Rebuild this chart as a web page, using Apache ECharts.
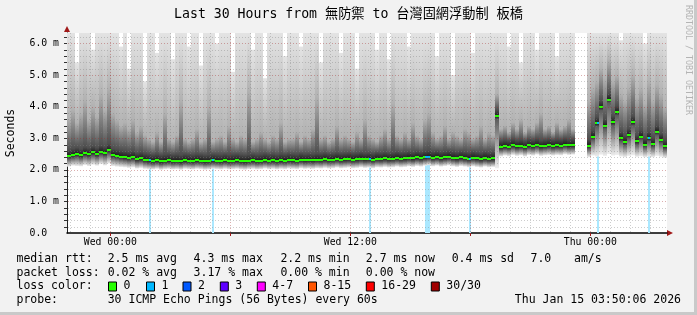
<!DOCTYPE html>
<html><head><meta charset="utf-8">
<script src="https://cdn.jsdelivr.net/npm/echarts@6/dist/echarts.min.js"></script>
<style>html,body{margin:0;padding:0;background:#f2f2f2}#c{width:697px;height:315px}</style>
</head><body><div id="c"></div><script>
// ---------- DATA ----------
const STEP = 12;            // minutes per bucket (x axis = minutes since Tue 21:50:06)
const X_MAX = 1800;         // 30 hours
const Y_MAX = 6.33;         // ms
const median = [
2.44,2.47,2.50,2.46,2.52,2.49,2.55,2.50,2.57,2.53,
2.62,2.47,2.45,2.42,2.40,2.38,2.40,2.34,2.36,2.32,
2.30,2.28,2.30,2.27,2.29,2.30,2.28,2.29,2.27,2.30,
2.29,2.28,2.30,2.29,2.27,2.28,2.30,2.29,2.28,2.30,
2.28,2.29,2.30,2.28,2.27,2.29,2.30,2.28,2.29,2.31,
2.29,2.30,2.28,2.30,2.29,2.31,2.30,2.29,2.32,2.30,
2.31,2.30,2.32,2.31,2.33,2.31,2.32,2.34,2.32,2.33,
2.34,2.32,2.33,2.35,2.33,2.34,2.32,2.35,2.34,2.36,
2.34,2.35,2.37,2.35,2.36,2.38,2.36,2.39,2.37,2.40,
2.42,2.38,2.40,2.37,2.39,2.41,2.38,2.36,2.39,2.37,
2.35,2.38,2.36,2.34,2.37,2.35,2.36,3.70,
2.72,2.75,2.73,2.78,2.74,2.76,2.72,2.77,2.75,2.79,
2.74,2.76,2.78,2.75,2.77,2.76,2.80,2.77,2.78,
null,null,null,
2.76,3.05,3.47,3.98,3.40,4.22,3.50,3.82,3.00,2.88,
3.10,3.50,2.90,3.05,2.80,3.00,2.82,3.20,2.95,2.75];
const smokeLo = [
2.10,2.13,2.12,2.11,2.15,2.12,2.16,2.13,2.18,2.14,
2.20,2.12,2.10,2.09,2.08,2.06,2.08,2.04,2.06,2.03,
2.02,2.01,2.03,2.00,2.02,2.03,2.01,2.02,2.00,2.03,
2.02,2.01,2.03,2.02,2.00,2.01,2.03,2.02,2.01,2.03,
2.01,2.02,2.03,2.01,2.00,2.02,2.03,2.01,2.02,2.04,
2.02,2.03,2.01,2.03,2.02,2.04,2.03,2.02,2.05,2.03,
2.04,2.03,2.05,2.04,2.06,2.04,2.05,2.07,2.05,2.06,
2.07,2.05,2.06,2.08,2.06,2.07,2.05,2.08,2.07,2.09,
2.07,2.08,2.10,2.08,2.09,2.11,2.09,2.12,2.10,2.13,
2.15,2.11,2.13,2.10,2.12,2.14,2.11,2.09,2.12,2.10,
2.08,2.11,2.09,2.07,2.10,2.08,2.09,2.05,
2.42,2.45,2.43,2.47,2.44,2.46,2.42,2.47,2.45,2.48,
2.44,2.46,2.47,2.45,2.47,2.46,2.49,2.47,2.48,
null,null,null,
2.40,2.45,2.42,2.48,2.44,2.50,2.45,2.47,2.42,2.40,
2.44,2.46,2.41,2.43,2.40,2.42,2.40,2.44,2.41,2.38];
const smokeQ3 = [
3.6,3.9,3.5,3.8,4.2,3.6,4.0,3.7,4.4,3.9,
4.6,3.8,3.6,3.4,3.5,3.3,3.6,3.2,3.4,3.1,
3.0,2.9,3.2,2.9,3.8,3.0,2.9,3.1,4.2,3.0,
2.9,3.0,3.3,2.9,3.0,4.0,2.9,3.0,3.1,2.9,
3.4,3.0,2.9,3.1,3.0,4.5,2.9,3.0,3.2,3.0,
2.9,3.1,3.0,3.5,2.9,3.0,3.0,3.2,2.9,3.1,
3.0,3.3,4.3,3.0,3.1,2.9,3.0,3.4,3.0,3.1,
3.0,2.9,3.2,3.0,3.6,3.1,3.0,2.9,3.1,3.3,
3.0,4.1,3.1,3.0,3.2,3.0,3.5,3.1,3.0,3.6,
3.8,3.2,3.0,3.1,3.4,3.0,3.2,3.1,3.0,3.3,
3.2,3.0,3.1,3.4,3.0,3.2,3.1,4.4,
3.3,3.4,3.2,3.5,3.3,3.6,3.2,3.4,3.3,3.5,
3.8,3.3,3.4,3.2,3.5,3.3,3.4,3.6,3.3,
null,null,null,
4.2,4.6,4.8,5.2,4.9,5.5,4.8,5.0,4.4,4.2,
4.6,5.0,4.3,4.6,4.1,4.8,4.2,4.7,4.4,4.0];
const smokeHi = [
6.33,6.33,5.4,6.33,6.33,6.33,5.8,6.33,6.33,6.33,
6.33,6.33,6.33,5.9,6.33,5.2,6.33,6.33,6.33,4.8,
6.33,6.33,5.7,6.33,6.33,6.33,5.5,6.33,6.33,6.33,
5.9,6.33,6.33,5.3,6.33,6.33,6.33,6.0,6.33,6.33,
6.33,5.1,6.33,6.33,6.33,6.33,5.8,6.33,6.33,4.9,
6.33,6.33,6.33,6.33,5.6,6.33,6.33,6.33,5.9,6.33,
6.33,6.33,6.33,5.4,6.33,6.33,6.33,6.33,5.7,6.33,
6.33,6.33,5.2,6.33,6.33,6.33,6.33,5.8,6.33,6.33,
5.5,6.33,6.33,6.33,6.33,5.9,6.33,6.33,6.33,6.33,
6.33,6.33,5.6,6.33,6.33,6.33,5.0,6.33,6.33,6.33,
6.33,5.7,6.33,6.33,6.33,6.33,6.33,6.33,
6.33,6.33,5.9,6.33,6.33,5.4,6.33,6.33,6.33,5.8,
6.33,6.33,6.33,6.33,5.6,6.33,6.33,6.33,6.33,
null,null,null,
6.33,6.33,6.33,6.33,6.33,6.33,6.33,6.33,6.1,6.33,
6.33,6.33,6.33,6.33,6.0,6.33,6.33,6.33,6.33,6.33];
// packet-loss events: start (minutes since start), duration (minutes), lost pings
const lossStart = [246, 435, 906, 1074, 1206, 1590, 1743];
const lossDur   = [6, 6, 6, 15, 6, 6, 6];
const lossCount = [1, 1, 1, 1, 1, 1, 1];
// axis ticks
const yMinorTicks = [0.2,0.4,0.6,0.8,1.2,1.4,1.6,1.8,2.2,2.4,2.6,2.8,3.2,3.4,3.6,3.8,4.2,4.4,4.6,4.8,5.2,5.4,5.6,5.8,6.2];
const yMajorTicks = [1,2,3,4,5,6];
const xMinorTicks = [9.9,69.9,189.9,249.9,309.9,369.9,429.9,549.9,609.9,669.9,729.9,789.9,909.9,969.9,1029.9,1089.9,1149.9,1269.9,1329.9,1389.9,1449.9,1509.9,1629.9,1689.9,1749.9];
const xMajorTicks = [129.9,489.9,849.9,1209.9,1569.9];
const xLabelTimes = [129.9, 849.9, 1569.9];
const xLabelTexts = ['Wed 00:00', 'Wed 12:00', 'Thu 00:00'];
// legend
const titleText = 'Last 30 Hours from 無防禦 to 台灣固網浮動制 板橋';
const rttLabels = ['2.5 ms avg', '4.3 ms max', '2.2 ms min', '2.7 ms now', '0.4 ms sd', '7.0', 'am/s'];
const lossLabels = ['0.02 % avg', '3.17 % max', '0.00 % min', '0.00 % now'];
const lossColorLabels = ['0', '1', '2', '3', '4-7', '8-15', '16-29', '30/30'];
const lossColors = ['#26ff00', '#00b8ff', '#0059ff', '#5e00ff', '#ff00ff', '#ff5500', '#ff0000', '#a10000'];
const probeText = '30 ICMP Echo Pings (56 Bytes) every 60s';
const dateText = 'Thu Jan 15 03:50:06 2026';

// ---------- LAYOUT / STYLE ----------
const FONT = "'DejaVu Sans Mono','Noto Sans CJK TC',monospace";
const GL = 67, GR = 30, GT = 33, GB = 82;
const GRID_C = 'rgba(130,130,130,0.40)';
const MGRID_C = 'rgba(160,40,40,0.38)';
const ARROW_C = '#a01818';

const smokeData = median.map((m, i) => [i * STEP, smokeLo[i], m, smokeQ3[i], smokeHi[i]]);
const medianData = median.map((m, i) => [i * STEP, m]);
const lossData = lossStart.map((t, i) => [t, lossDur[i], lossCount[i]]);

function colorForLoss(n) {
  if (n <= 0) return lossColors[0];
  if (n <= 3) return lossColors[n];
  if (n <= 7) return lossColors[4];
  if (n <= 15) return lossColors[5];
  if (n <= 29) return lossColors[6];
  return lossColors[7];
}
function lighten(hex, a) {
  const r = parseInt(hex.slice(1,3),16), g = parseInt(hex.slice(3,5),16), b = parseInt(hex.slice(5,7),16);
  const f = c => Math.round(255 - (255 - c) * a);
  return 'rgb(' + f(r) + ',' + f(g) + ',' + f(b) + ')';
}

function smokeItem(params, api) {
  const t = api.value(0), lo = api.value(1), md = api.value(2), q3 = api.value(3), hi = api.value(4);
  if (isNaN(md)) return null;
  const pHi = api.coord([t, hi]), pLo = api.coord([t, lo]), pEnd = api.coord([t + STEP, hi]);
  const H = pLo[1] - pHi[1];
  const off = v => Math.min(1, Math.max(0, (api.coord([t, v])[1] - pHi[1]) / H));
  return { type: 'rect', shape: { x: pHi[0], y: pHi[1], width: pEnd[0] - pHi[0], height: H },
    style: { fill: new echarts.graphic.LinearGradient(0, 0, 0, 1, [
      { offset: 0, color: '#e3e3e3' },
      { offset: off(q3), color: '#b2b2b2' },
      { offset: off(md + 0.2), color: '#4e4e4e' },
      { offset: off(md), color: '#1c1c1c' },
      { offset: off(md - 0.1), color: '#5c5c5c' },
      { offset: 1, color: '#eeeeee' }
    ]) } };
}
function medianItem(params, api) {
  const t = api.value(0), md = api.value(1);
  if (isNaN(md)) return null;
  const p0 = api.coord([t, md]), p1 = api.coord([t + STEP, md]);
  return { type: 'rect', shape: { x: p0[0], y: Math.round(p0[1]) - 1, width: p1[0] - p0[0], height: 2 },
    style: { fill: lossColors[0] } };
}
function lossBarItem(params, api) {
  const t = api.value(0), d = api.value(1), n = api.value(2);
  const p0 = api.coord([t, Y_MAX]), p1 = api.coord([t + d, 0]);
  return { type: 'rect', shape: { x: p0[0], y: p0[1], width: p1[0] - p0[0], height: p1[1] - p0[1] },
    style: { fill: lighten(colorForLoss(n), 0.33) } };
}
function lossDotItem(params, api) {
  const t = api.value(0), d = api.value(1), n = api.value(2);
  const md = median[Math.floor(t / STEP)];
  if (md == null) return null;
  const p0 = api.coord([t, md]), p1 = api.coord([t + d, md]);
  return { type: 'rect', shape: { x: p0[0], y: Math.round(p0[1]) - 1, width: p1[0] - p0[0], height: 2 },
    style: { fill: colorForLoss(n) } };
}
function hLineItem(color) {
  return function (params, api) {
    const v = api.value(1);
    const p0 = api.coord([0, v]), p1 = api.coord([X_MAX, v]);
    const y = Math.round(p0[1]) + 0.5;
    return { type: 'group', children: [
      { type: 'line', shape: { x1: p0[0] + 1, y1: y, x2: p1[0], y2: y }, style: { stroke: color, lineWidth: 1, lineDash: [1, 2] } },
      { type: 'line', shape: { x1: p0[0] - 3, y1: y, x2: p0[0], y2: y }, style: { stroke: '#333', lineWidth: 1 } }
    ] };
  };
}
function vLineItem(color, tick) {
  return function (params, api) {
    const t = api.value(0);
    const p0 = api.coord([t, 0]), p1 = api.coord([t, Y_MAX]);
    const x = Math.round(p0[0]) + 0.5;
    const ch = [{ type: 'line', shape: { x1: x, y1: p0[1] - 1, x2: x, y2: p1[1] }, style: { stroke: color, lineWidth: 1, lineDash: [1, 2] } }];
    if (tick) ch.push({ type: 'line', shape: { x1: x, y1: p0[1], x2: x, y2: p0[1] + 3 }, style: { stroke: ARROW_C, lineWidth: 1 } });
    return { type: 'group', children: ch };
  };
}
function xLabelItem(params, api) {
  const t = api.value(0);
  const p = api.coord([t, 0]);
  return { type: 'text', x: p[0], y: p[1] + 9,
    style: { text: xLabelTexts[params.dataIndex], align: 'center', verticalAlign: 'middle', fontFamily: FONT, fontSize: 9.8, fill: '#000' } };
}

// ---------- GRAPHIC (title, legend, frame) ----------
const graphics = [];
graphics.push({ type: 'rect', shape: { x: 694, y: 0, width: 3, height: 315 }, style: { fill: '#c9c9c9' }, z: -1 });
graphics.push({ type: 'rect', shape: { x: 0, y: 312, width: 697, height: 3 }, style: { fill: '#c9c9c9' }, z: -1 });
graphics.push({ type: 'text', x: 348.5, y: 15, style: { text: titleText, align: 'center', verticalAlign: 'middle', fontFamily: FONT, fontSize: 13.2, fill: '#000' } });
graphics.push({ type: 'text', x: 11.5, y: 133, rotation: Math.PI / 2, style: { text: 'Seconds', align: 'center', verticalAlign: 'middle', fontFamily: FONT, fontSize: 11.5, fill: '#000' } });
graphics.push({ type: 'text', x: 688.5, y: 60, rotation: -Math.PI / 2, style: { text: 'RRDTOOL / TOBI OETIKER', align: 'center', verticalAlign: 'middle', fontFamily: FONT, fontSize: 8.3, fill: '#b4b4b4' } });
// arrows
graphics.push({ type: 'polygon', shape: { points: [[GL - 3, 32], [GL + 3, 32], [GL, 26]] }, style: { fill: ARROW_C } });
graphics.push({ type: 'polygon', shape: { points: [[697 - GR, 230], [697 - GR, 236], [697 - GR + 6, 233]] }, style: { fill: ARROW_C } });
const LX = 16.5, VX = 107.7;
const rowY = [259.5, 273, 286.5, 300];
const rttX = [107.7, 193.6, 280.4, 365.8, 451.7, 530.5, 574];
const lossX = [107.7, 193.6, 280.4, 365.8];
const swatchX = [108, 146, 182.5, 219.8, 256.8, 308, 365.8, 430.8];
function txt(s, x, y) { return { type: 'text', x: x, y: y, style: { text: s, verticalAlign: 'middle', fontFamily: FONT, fontSize: 11.5, fill: '#000' } }; }
graphics.push(txt('median rtt:', LX, rowY[0]));
rttLabels.forEach((s, i) => graphics.push(txt(s, rttX[i], rowY[0])));
graphics.push(txt('packet loss:', LX, rowY[1]));
lossLabels.forEach((s, i) => graphics.push(txt(s, lossX[i], rowY[1])));
graphics.push(txt('loss color:', LX, rowY[2]));
lossColorLabels.forEach((s, i) => {
  graphics.push({ type: 'rect', shape: { x: swatchX[i] + 0.5, y: rowY[2] - 4.5, width: 8, height: 9 }, style: { fill: lossColors[i], stroke: '#000', lineWidth: 1 } });
  graphics.push(txt(s, swatchX[i] + 15.5, rowY[2]));
});
graphics.push(txt('probe:', LX, rowY[3]));
graphics.push(txt(probeText, VX, rowY[3]));
graphics.push({ type: 'text', x: 681, y: rowY[3], style: { text: dateText, align: 'right', verticalAlign: 'middle', fontFamily: FONT, fontSize: 11.5, fill: '#000' } });

// ---------- CHART ----------
const chart = echarts.init(document.getElementById('c'), null, { renderer: 'canvas', width: 697, height: 315 });
chart.setOption({
  backgroundColor: '#f2f2f2',
  animation: false,
  grid: { left: GL, right: GR, top: GT, bottom: GB, show: true, backgroundColor: '#ffffff', borderWidth: 0 },
  xAxis: { type: 'value', min: 0, max: X_MAX,
    axisLine: { show: true, onZero: false, lineStyle: { color: '#000', width: 1.5 } },
    axisTick: { show: false }, axisLabel: { show: false }, splitLine: { show: false } },
  yAxis: { type: 'value', min: 0, max: Y_MAX, interval: 1,
    axisLine: { show: true, lineStyle: { color: '#222', width: 1 } },
    axisTick: { show: false }, splitLine: { show: false },
    axisLabel: { margin: 8, fontFamily: FONT, fontSize: 9.8, color: '#000', showMaxLabel: false,
      formatter: v => Math.abs(v - Math.round(v)) > 1e-6 ? '' : (v === 0 ? '0.0  ' : v.toFixed(1) + ' m') } },
  graphic: graphics,
  series: [
    { type: 'custom', name: 'loss', z: 2, data: lossData, renderItem: lossBarItem, clip: true, silent: true },
    { type: 'custom', name: 'smoke', z: 3, data: smokeData, renderItem: smokeItem, clip: true, silent: true },
    { type: 'custom', name: 'median', z: 4, data: medianData, renderItem: medianItem, clip: true, silent: true },
    { type: 'custom', name: 'lossMedian', z: 5, data: lossData, renderItem: lossDotItem, clip: true, silent: true },
    { type: 'custom', name: 'hMinor', z: 6, data: yMinorTicks.map(v => [0, v]), renderItem: hLineItem(GRID_C), clip: false, silent: true },
    { type: 'custom', name: 'hMajor', z: 6, data: yMajorTicks.map(v => [0, v]), renderItem: hLineItem(MGRID_C), clip: false, silent: true },
    { type: 'custom', name: 'vMinor', z: 6, data: xMinorTicks.map(t => [t, 0]), renderItem: vLineItem(GRID_C, false), clip: false, silent: true },
    { type: 'custom', name: 'vMajor', z: 6, data: xMajorTicks.map(t => [t, 0]), renderItem: vLineItem(MGRID_C, true), clip: false, silent: true },
    { type: 'custom', name: 'xLabels', z: 6, data: xLabelTimes.map(t => [t, 0]), renderItem: xLabelItem, clip: false, silent: true }
  ]
});
</script></body></html>
